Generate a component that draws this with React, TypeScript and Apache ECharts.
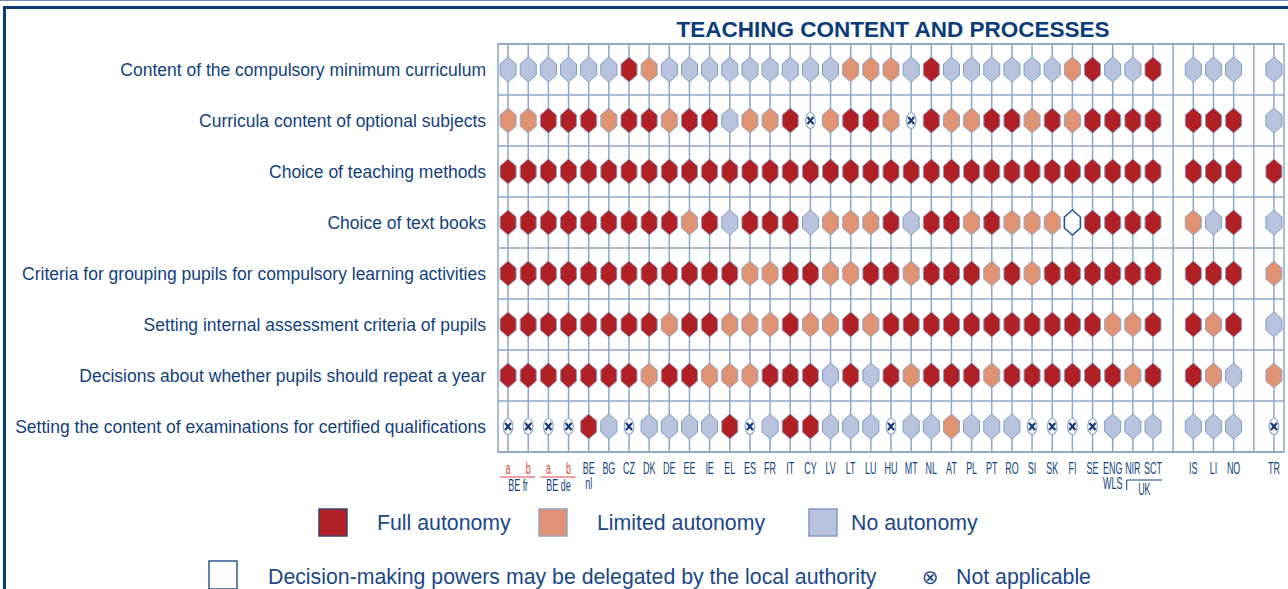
import React, { useEffect, useRef } from 'react';
import * as echarts from 'echarts';

// ---------- data ----------
const rowLabels = [
  'Content of the compulsory minimum curriculum',
  'Curricula content of optional subjects',
  'Choice of teaching methods',
  'Choice of text books',
  'Criteria for grouping pupils for compulsory learning activities',
  'Setting internal assessment criteria of pupils',
  'Decisions about whether pupils should repeat a year',
  'Setting the content of examinations for certified qualifications',
];

const countries = [
  'BE fr a', 'BE fr b', 'BE de a', 'BE de b', 'BE nl', 'BG', 'CZ', 'DK', 'DE', 'EE', 'IE', 'EL', 'ES', 'FR', 'IT',
  'CY', 'LV', 'LT', 'LU', 'HU', 'MT', 'NL', 'AT', 'PL', 'PT', 'RO', 'SI', 'SK', 'FI', 'SE', 'ENG/WLS', 'NIR', 'SCT',
  'IS', 'LI', 'NO',
  'TR',
];
const countryLabels = [
  'a', 'b', 'a', 'b', 'BE\nnl', 'BG', 'CZ', 'DK', 'DE', 'EE', 'IE', 'EL', 'ES', 'FR', 'IT',
  'CY', 'LV', 'LT', 'LU', 'HU', 'MT', 'NL', 'AT', 'PL', 'PT', 'RO', 'SI', 'SK', 'FI', 'SE', 'ENG\nWLS', 'NIR', 'SCT',
  'IS', 'LI', 'NO',
  'TR',
];
const euGroup = countries.slice(0, 33);
const eftaGroup = countries.slice(33, 36);
const candidateGroup = countries.slice(36);
const xCategories = [...euGroup, 'gap-1', ...eftaGroup, 'gap-2', ...candidateGroup];

const groupLabels = [
  { text: 'BE fr', first: 'BE fr a', last: 'BE fr b', kind: 'underline' },
  { text: 'BE de', first: 'BE de a', last: 'BE de b', kind: 'underline' },
  { text: 'UK', first: 'ENG/WLS', last: 'SCT', kind: 'bracket' },
];

// F = full autonomy, P = limited autonomy, N = no autonomy,
// D = may be delegated by local authority, X = not applicable
const contentMinimum = ['N','N','N','N','N','N','F','P','N','N','N','N','N','N','N','N','N','P','P','P','N','F','N','N','N','N','N','N','P','F','N','N','F', 'N','N','N', 'N'];
const optionalSubjects = ['P','P','F','F','F','P','F','F','P','F','F','N','P','P','F','X','P','F','F','P','X','F','P','P','F','F','P','F','P','F','F','F','F', 'F','F','F', 'N'];
const teachingMethods = ['F','F','F','F','F','F','F','F','F','F','F','F','F','F','F','F','F','F','F','F','F','F','F','F','F','F','F','F','F','F','F','F','F', 'F','F','F', 'F'];
const textBooks = ['F','F','F','F','F','F','F','F','F','P','F','N','F','F','F','N','P','P','P','F','N','F','F','P','F','P','P','P','D','F','F','F','F', 'P','N','F', 'N'];
const groupingPupils = ['F','F','F','F','F','F','F','F','F','F','F','F','P','P','F','F','P','P','F','F','P','F','F','F','P','F','P','F','F','F','F','F','F', 'F','F','F', 'P'];
const assessmentCriteria = ['F','F','F','F','F','F','F','F','P','F','F','P','P','P','F','P','P','F','P','F','F','F','F','F','F','F','F','F','F','F','P','P','F', 'F','P','F', 'N'];
const repeatYear = ['F','F','F','F','F','F','F','P','F','F','P','P','P','F','F','F','N','F','N','F','P','F','F','F','P','F','F','F','F','F','F','P','F', 'F','P','N', 'P'];
const examContent = ['X','X','X','X','F','N','X','N','N','N','N','F','X','N','F','F','N','N','N','X','N','N','P','N','N','N','X','X','X','X','N','N','N', 'N','N','N', 'X'];

const rows = [contentMinimum, optionalSubjects, teachingMethods, textBooks, groupingPupils, assessmentCriteria, repeatYear, examContent];

const legendItems = [
  { code: 'F', label: 'Full autonomy' },
  { code: 'P', label: 'Limited autonomy' },
  { code: 'N', label: 'No autonomy' },
];
const legendNotes = [
  { code: 'D', label: 'Decision-making powers may be delegated by the local authority' },
  { code: 'X', label: 'Not applicable' },
];
const titleText = 'TEACHING CONTENT AND PROCESSES';

// ---------- styles ----------
const codeOrder = ['N', 'P', 'F', 'D', 'X'];
const fills: Record<string, string> = { F: '#b02024', P: '#df9373', N: '#b9c3dd', D: '#ffffff' };
const strokes: Record<string, string> = { F: '#8d9dbb', P: '#93a5c4', N: '#7f9cc3', D: '#2a5194' };
const NAVY = '#123f7c';
const GRIDLINE = '#8ea6c8';
const RED_TXT = '#d8453c';
const SANS = '"Liberation Sans", Arial, sans-serif';

export default function App() {
  const ref = useRef<HTMLDivElement>(null);

  useEffect(() => {
    if (!ref.current) return;
    const chart = echarts.init(ref.current, undefined, { renderer: 'svg' });

    const hexData: number[][] = [];
    rows.forEach((row, r) => {
      row.forEach((code, c) => {
        hexData.push([xCategories.indexOf(countries[c]), r, codeOrder.indexOf(code)]);
      });
    });

    const lineData = xCategories.map((_, i) => [i, 0]);
    const labelData = countries.map((k, i) => [xCategories.indexOf(k), rowLabels.length - 1, i]);
    const groupData = groupLabels.map((g, i) => [xCategories.indexOf(g.first), rowLabels.length - 1, i]);

    const textFont = '21.3px ' + SANS;
    const smallFont = '16px ' + SANS;
    const narrow = 0.56;

    const option: any = {
      animation: false,
      title: {
        text: titleText,
        left: 888,
        top: 13,
        textAlign: 'center',
        textStyle: { color: '#0a3c7a', fontSize: 22.5, fontWeight: 'bold', fontFamily: SANS },
      },
      grid: {
        left: 498, right: 4, top: 44, bottom: 137,
        containLabel: false,
        outerBoundsMode: 'none',
        show: true, borderColor: GRIDLINE, borderWidth: 1.5, backgroundColor: '#ffffff',
      },
      xAxis: {
        type: 'category',
        data: xCategories,
        axisLine: { show: false },
        axisTick: { show: false },
        axisLabel: { show: false },
        splitLine: { show: false },
      },
      yAxis: {
        type: 'category',
        data: rowLabels,
        inverse: true,
        axisLine: { show: false },
        axisTick: { show: false },
        splitLine: { show: true, lineStyle: { color: GRIDLINE, width: 1.5 } },
        axisLabel: {
          margin: 12,
          color: NAVY,
          fontSize: 17.5,
          fontFamily: SANS,
        },
      },
      graphic: [
        { type: 'line', shape: { x1: 0, y1: 0.5, x2: 1288, y2: 0.5 }, style: { stroke: '#6b8cba', lineWidth: 1 }, silent: true },
        { type: 'rect', shape: { x: 4.5, y: 7.5, width: 1320, height: 620 }, style: { fill: 'none', stroke: '#0b3a78', lineWidth: 3 }, silent: true },
        // legend row 1
        ...legendItems.flatMap((it, i) => {
          const bx = [319, 539, 809][i];
          const tx = [377, 597, 851][i];
          return [
            { type: 'rect', shape: { x: bx, y: 509, width: 28, height: 27 }, style: { fill: fills[it.code], stroke: it.code === 'F' ? '#3c3f72' : strokes[it.code], lineWidth: 1.5 } },
            { type: 'text', x: tx, y: 523, style: { text: it.label, fill: '#1b4788', font: textFont, verticalAlign: 'middle' } },
          ];
        }),
        // legend row 2
        { type: 'rect', shape: { x: 209, y: 561, width: 28, height: 28 }, style: { fill: '#ffffff', stroke: '#2d5a9a', lineWidth: 1.5 } },
        { type: 'text', x: 268, y: 577, style: { text: legendNotes[0].label, fill: '#1b4788', font: textFont, verticalAlign: 'middle' } },
        { type: 'text', x: 930, y: 577, style: { text: '⊗', fill: '#1b4788', font: '20px "DejaVu Sans", sans-serif', align: 'center', verticalAlign: 'middle' } },
        { type: 'text', x: 956, y: 577, style: { text: legendNotes[1].label, fill: '#1b4788', font: textFont, verticalAlign: 'middle' } },
      ],
      series: [
        {
          type: 'custom',
          name: 'column lines',
          z: 1,
          silent: true,
          data: lineData,
          renderItem: (params: any, api: any) => {
            const cs = params.coordSys;
            const p = api.coord([api.value(0), 0]);
            return {
              type: 'line',
              shape: { x1: p[0], y1: cs.y, x2: p[0], y2: cs.y + cs.height },
              style: { stroke: GRIDLINE, lineWidth: 1.5 },
            };
          },
        },
        {
          type: 'custom',
          name: 'autonomy',
          z: 3,
          data: hexData,
          renderItem: (params: any, api: any) => {
            const p = api.coord([api.value(0), api.value(1)]);
            const code = codeOrder[api.value(2)];
            const cx = p[0], cy = p[1];
            if (code === 'X') {
              return {
                type: 'group',
                children: [
                  { type: 'ellipse', shape: { cx, cy, rx: 4.8, ry: 8 }, style: { fill: '#ffffff', stroke: GRIDLINE, lineWidth: 1.2 } },
                  { type: 'line', shape: { x1: cx - 3, y1: cy - 3.5, x2: cx + 3, y2: cy + 3.5 }, style: { stroke: '#16397a', lineWidth: 2.2 } },
                  { type: 'line', shape: { x1: cx + 3, y1: cy - 3.5, x2: cx - 3, y2: cy + 3.5 }, style: { stroke: '#16397a', lineWidth: 2.2 } },
                ],
              };
            }
            const w = 8, h = 12.5, s = 5.5;
            return {
              type: 'polygon',
              shape: { points: [[cx, cy - h], [cx + w, cy - s], [cx + w, cy + s], [cx, cy + h], [cx - w, cy + s], [cx - w, cy - s]] },
              style: { fill: fills[code], stroke: strokes[code], lineWidth: code === 'D' ? 1.6 : 1 },
            };
          },
        },
        {
          type: 'custom',
          name: 'column labels',
          z: 4,
          silent: true,
          data: labelData,
          renderItem: (params: any, api: any) => {
            const cs = params.coordSys;
            const p = api.coord([api.value(0), api.value(1)]);
            const idx = api.value(2);
            const lines = countryLabels[idx].split('\n');
            const bottom = cs.y + cs.height;
            const isSub = lines[0] === 'a' || lines[0] === 'b';
            return {
              type: 'group',
              children: lines.map((t: string, li: number) => ({
                type: 'text',
                x: p[0],
                y: bottom + 16 + li * 15,
                scaleX: narrow,
                style: {
                  text: t,
                  fill: isSub ? RED_TXT : NAVY,
                  font: smallFont,
                  align: 'center',
                  verticalAlign: 'middle',
                },
              })),
            };
          },
        },
        {
          type: 'custom',
          name: 'group labels',
          z: 4,
          silent: true,
          data: groupData,
          renderItem: (params: any, api: any) => {
            const cs = params.coordSys;
            const g = groupLabels[api.value(2)];
            const a = api.coord([xCategories.indexOf(g.first), api.value(1)]);
            const b = api.coord([xCategories.indexOf(g.last), api.value(1)]);
            const bottom = cs.y + cs.height;
            if (g.kind === 'underline') {
              return {
                type: 'group',
                children: [
                  { type: 'line', shape: { x1: a[0] - 8, y1: bottom + 25, x2: b[0] + 7, y2: bottom + 25 }, style: { stroke: RED_TXT, lineWidth: 1 } },
                  { type: 'text', x: (a[0] + b[0]) / 2, y: bottom + 33, scaleX: narrow, style: { text: g.text, fill: NAVY, font: smallFont, align: 'center', verticalAlign: 'middle' } },
                ],
              };
            }
            const x0 = a[0] + 14;
            const x1 = b[0] + 9;
            return {
              type: 'group',
              children: [
                { type: 'line', shape: { x1: x0, y1: bottom + 28, x2: x1, y2: bottom + 28 }, style: { stroke: NAVY, lineWidth: 1 } },
                { type: 'line', shape: { x1: x0, y1: bottom + 28, x2: x0, y2: bottom + 38 }, style: { stroke: NAVY, lineWidth: 1 } },
                { type: 'text', x: (x0 + x1) / 2, y: bottom + 37, scaleX: narrow, style: { text: g.text, fill: NAVY, font: smallFont, align: 'center', verticalAlign: 'middle' } },
              ],
            };
          },
        },
      ],
    };

    chart.setOption(option);
    return () => chart.dispose();
  }, []);

  return (
    <div
      ref={ref}
      style={{ position: 'fixed', left: 0, top: 0, width: 1288, height: 589, background: '#ffffff' }}
    />
  );
}
